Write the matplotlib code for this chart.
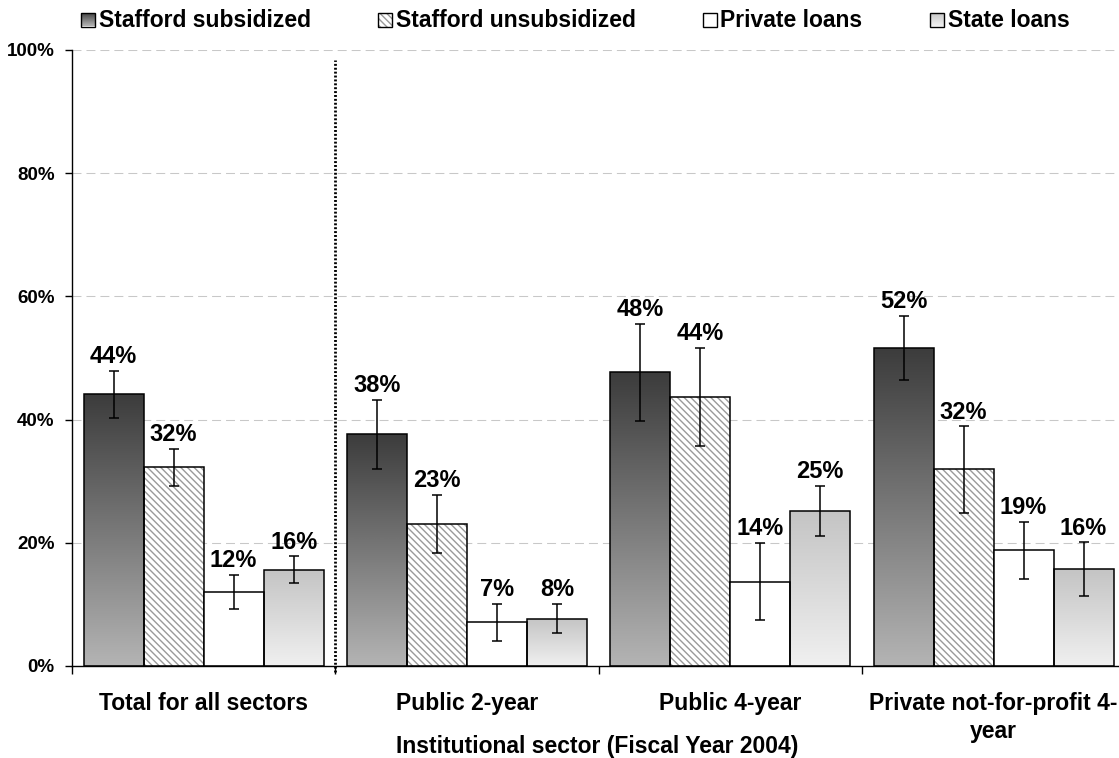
import numpy as np
import matplotlib
matplotlib.use('Agg')
import matplotlib.pyplot as plt
from matplotlib.colors import LinearSegmentedColormap

# ---------------- data ----------------
categories = ["Total for all sectors", "Public 2-year", "Public 4-year",
              "Private not-for-profit 4-\nyear"]
series = ["Stafford subsidized", "Stafford unsubsidized", "Private loans", "State loans"]
subsidized = [44.1, 37.6, 47.7, 51.6]
unsubsidized = [32.3, 23.1, 43.7, 31.9]
private = [12.0, 7.1, 13.7, 18.8]
state = [15.6, 7.7, 25.2, 15.7]
err_subsidized = [3.8, 5.6, 7.9, 5.2]
err_unsubsidized = [3.0, 4.7, 8.0, 7.0]
err_private = [2.8, 3.0, 6.3, 4.6]
err_state = [2.2, 2.4, 4.1, 4.4]
y_ticks = [0, 20, 40, 60, 80, 100]
x_title = "Institutional sector (Fiscal Year 2004)"

# ---------------- style ----------------
plt.rcParams['font.family'] = ['Liberation Sans', 'DejaVu Sans']
plt.rcParams['font.weight'] = 'bold'
plt.rcParams['hatch.linewidth'] = 1.0

W, H = 1119, 758
fig = plt.figure(figsize=(W / 100, H / 100), dpi=100)
L, R, B, T = 72, 1125.2, 666, 50
ax = fig.add_axes([L / W, (H - B) / H, (R - L) / W, (B - T) / H])

HATCH = '\\\\\\\\\\'
EDGE_LW = 1.1


def grad_bar(a, x, h, w, c_top, c_bot, lw=EDGE_LW):
    bar = a.bar(x, h, w, facecolor='none', edgecolor='black', linewidth=lw, zorder=3)[0]
    cmap = LinearSegmentedColormap.from_list('g', [c_bot, c_top])
    grad = np.linspace(0, 1, 256).reshape(-1, 1)
    im = a.imshow(grad, cmap=cmap, origin='lower', extent=[x - w / 2, x + w / 2, 0, h],
                  aspect='auto', zorder=2, interpolation='bilinear')
    im.set_clip_path(bar)


def hatch_bar(a, x, h, w, lw=EDGE_LW):
    a.bar(x, h, w, facecolor='white', edgecolor='#9a9a9a', hatch=HATCH, linewidth=0, zorder=2)
    a.bar(x, h, w, facecolor='none', edgecolor='black', linewidth=lw, zorder=3)


def plain_bar(a, x, h, w, lw=EDGE_LW):
    a.bar(x, h, w, facecolor='white', edgecolor='black', linewidth=lw, zorder=3)


def draw(kind, a, x, h, w, lw=EDGE_LW):
    if kind == 0:
        grad_bar(a, x, h, w, '#3c3c3c', '#b4b4b4', lw)
    elif kind == 1:
        hatch_bar(a, x, h, w, lw)
    elif kind == 2:
        plain_bar(a, x, h, w, lw)
    else:
        grad_bar(a, x, h, w, '#c4c4c4', '#f0f0f0', lw)


values = [subsidized, unsubsidized, private, state]
errors = [err_subsidized, err_unsubsidized, err_private, err_state]
bw = 60 / ((R - L) / 4)
xc = np.arange(len(categories))

for s, (vals, errs) in enumerate(zip(values, errors)):
    xs = xc + (s - 1.5) * bw
    for x, v in zip(xs, vals):
        draw(s, ax, x, v, bw)
    ax.errorbar(xs, vals, yerr=errs, fmt='none', ecolor='black', elinewidth=1.1,
                capsize=3.3, capthick=1.1, zorder=4)
    for x, v, e in zip(xs, vals, errs):
        ax.annotate(f"{round(v)}%", (x, v + e), xytext=(0, 5.5), textcoords='offset points',
                    ha='center', va='baseline', fontsize=17, fontweight='bold', zorder=5)

# separator
ax.plot([0.5, 0.5], [-1.0, 98.4], color='black', linestyle=(0, (0.7, 0.7)), lw=2.0,
        zorder=4, clip_on=False)

ax.set_xlim(-0.5, 3.5)
ax.set_ylim(0, 100)

# grid
ax.set_yticks(y_ticks)
ax.set_yticklabels([f"{t}%" for t in y_ticks])
ax.yaxis.grid(True, color='#c8c8c8', linestyle=(0, (8.6, 4.8)), linewidth=0.75, zorder=0)
ax.set_axisbelow(True)

for sp in ['top', 'right']:
    ax.spines[sp].set_visible(False)
for sp in ['left', 'bottom']:
    ax.spines[sp].set_linewidth(1.0)
    ax.spines[sp].set_color('black')
    ax.spines[sp].set_zorder(6)

ax.tick_params(axis='y', direction='out', length=5, width=1, labelsize=13.5, pad=7.5)
ax.set_xticks(xc)
ax.set_xticklabels(categories)
for lbl in ax.get_xticklabels():
    lbl.set_linespacing(1.27)
ax.set_xticks([-0.5, 0.5, 1.5, 2.5, 3.5], minor=True)
ax.tick_params(axis='x', which='major', length=0, labelsize=16.5, pad=18.7)
ax.tick_params(axis='x', which='minor', direction='out', length=6, width=1)

fig.text(597 / W, 1 - 753 / H, x_title, ha='center', va='baseline', fontsize=16.5,
         fontweight='bold')

# legend (manual)
sq_x = [81, 378, 702.5, 929.6]
sq = 14
for i, (sx, name) in enumerate(zip(sq_x, series)):
    la = fig.add_axes([sx / W, 1 - 26.5 / H, sq / W, sq / H])
    la.set_xlim(0, 1)
    la.set_ylim(0, 1)
    la.axis('off')
    draw(i, la, 0.5, 1.0, 1.0, lw=1.0)
    la.set_xlim(0, 1)
    la.set_ylim(0, 1)
    for art in la.patches:
        art.set_clip_on(False)
    fig.text((sx + 18) / W, 1 - 26.7 / H, name, ha='left', va='baseline', fontsize=16.5,
             fontweight='bold')

fig.savefig('out.png', dpi=100)
